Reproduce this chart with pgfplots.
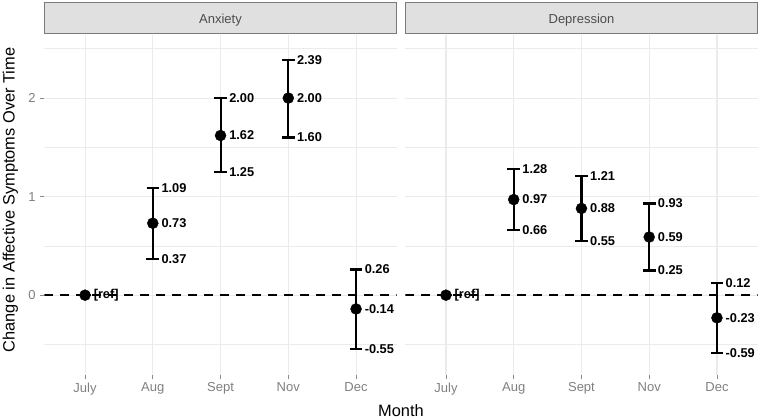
\documentclass[border=0pt]{standalone}
\usepackage{pgfplots}
\pgfplotsset{compat=1.18}
\usepackage{pgfplotstable}
\usepackage{fontspec}
\setmainfont{Liberation Sans}
\definecolor{gridc}{HTML}{EBEBEB}
\definecolor{tickc}{HTML}{8A8A8A}
\definecolor{ticklab}{HTML}{7F7F7F}
\definecolor{stripf}{HTML}{E0E0E0}
\definecolor{stripd}{HTML}{7A7A7A}
\definecolor{striptext}{HTML}{4D4D4D}

\pgfplotstableread{
x y lo hi ylab lolab hilab
1 0 0 0 {[ref]} {} {}
2 0.73 0.37 1.09 0.73 0.37 1.09
3 1.62 1.25 2.00 1.62 1.25 2.00
4 2.00 1.60 2.39 2.00 1.60 2.39
5 -0.14 -0.55 0.26 -0.14 -0.55 0.26
}\anx

\pgfplotstableread{
x y lo hi ylab lolab hilab
1 0 0 0 {[ref]} {} {}
2 0.97 0.66 1.28 0.97 0.66 1.28
3 0.88 0.55 1.21 0.88 0.55 1.21
4 0.59 0.25 0.93 0.59 0.25 0.93
5 -0.23 -0.59 0.12 -0.23 -0.59 0.12
}\dep

\pgfplotsset{
  every error bar/.append style={line width=2.1pt},
  panel/.style={
    scale only axis, width=352.3pt, height=340pt, anchor=south west,
    xmin=0.4, xmax=5.6, ymin=-0.81, ymax=2.64,
    xtick={1,2,3,4,5}, xticklabels={July,Aug,Sept,Nov,Dec},
    ytick={0,1,2}, minor ytick={-0.5,0.5,1.5,2.5},
    xmajorgrids, ymajorgrids, yminorgrids,
    major grid style={gridc, line width=1.1pt},
    minor grid style={gridc, line width=0.6pt},
    axis line style={draw=none},
    tick align=outside, major tick length=4.5pt, minor tick length=0pt,
    xtick pos=bottom, ytick pos=left,
    major tick style={tickc, line width=0.9pt},
    tick label style={font=\fontsize{13}{13}\selectfont, text=ticklab},
    xticklabel style={inner sep=0pt, yshift=-3pt},
    yticklabel style={inner sep=0pt, xshift=-4pt},
    /pgf/number format/assume math mode=true,
    clip mode=individual,
  },
  ebar/.style={black, line width=2.1pt, only marks, mark=none, forget plot,
    error bars/.cd, y dir=both, y explicit,
    error bar style={draw=black, solid, line width=2.1pt},
    error mark options={rotate=90, draw=black, solid, line width=2.1pt, mark size=6.3pt}},
  lbl/.style={nodes near coords, point meta=explicit symbolic,
    every node near coord/.append style={anchor=west, inner sep=0pt, xshift=8.5pt,
      font=\fontsize{12.8}{13}\selectfont\bfseries, text=black}},
}

\begin{document}
\begin{tikzpicture}[x=1pt,y=1pt]
\useasboundingbox (0,0) rectangle (760,420);

% strips
\draw[fill=stripf, draw=stripd, line width=1pt] (44.4,386.7) rectangle (396.7,417.3);
\draw[fill=stripf, draw=stripd, line width=1pt] (405.3,386.7) rectangle (757.6,417.3);
\node[anchor=base, font=\fontsize{13}{13}\selectfont, text=striptext] at (220.5,396.7) {Anxiety};
\node[anchor=base, font=\fontsize{13}{13}\selectfont, text=striptext] at (581.5,396.7) {Depression};

\begin{axis}[panel, at={(44.4pt,45pt)}]
\addplot[black, line width=1.8pt, dash pattern=on 8.5pt off 7.5pt, forget plot] coordinates {(0.4,0) (5.6,0)};
\addplot[ebar] table[x=x, y=y, y error plus expr=\thisrow{hi}-\thisrow{y}, y error minus expr=\thisrow{y}-\thisrow{lo}] {\anx};
\addplot[only marks, mark=*, mark size=5.5pt, black, lbl] table[x=x, y=y, meta=ylab] {\anx};
\addplot[only marks, mark=none, lbl] table[x=x, y=hi, meta=hilab] {\anx};
\addplot[only marks, mark=none, lbl] table[x=x, y=lo, meta=lolab] {\anx};
\end{axis}

\begin{axis}[panel, at={(405.3pt,45pt)}, yticklabels={}, ytick style={draw=none}]
\addplot[black, line width=1.8pt, dash pattern=on 8.5pt off 7.5pt, forget plot] coordinates {(0.4,0) (5.6,0)};
\addplot[ebar] table[x=x, y=y, y error plus expr=\thisrow{hi}-\thisrow{y}, y error minus expr=\thisrow{y}-\thisrow{lo}] {\dep};
\addplot[only marks, mark=*, mark size=5.5pt, black, lbl] table[x=x, y=y, meta=ylab] {\dep};
\addplot[only marks, mark=none, lbl] table[x=x, y=hi, meta=hilab] {\dep};
\addplot[only marks, mark=none, lbl] table[x=x, y=lo, meta=lolab] {\dep};
\end{axis}

\node[anchor=base, font=\fontsize{16.4}{16}\selectfont] at (401,3) {Month};
\node[anchor=base, rotate=90, font=\fontsize{16.4}{16}\selectfont] at (14.5,220) {Change in Affective Symptoms Over Time};
\end{tikzpicture}
\end{document}
